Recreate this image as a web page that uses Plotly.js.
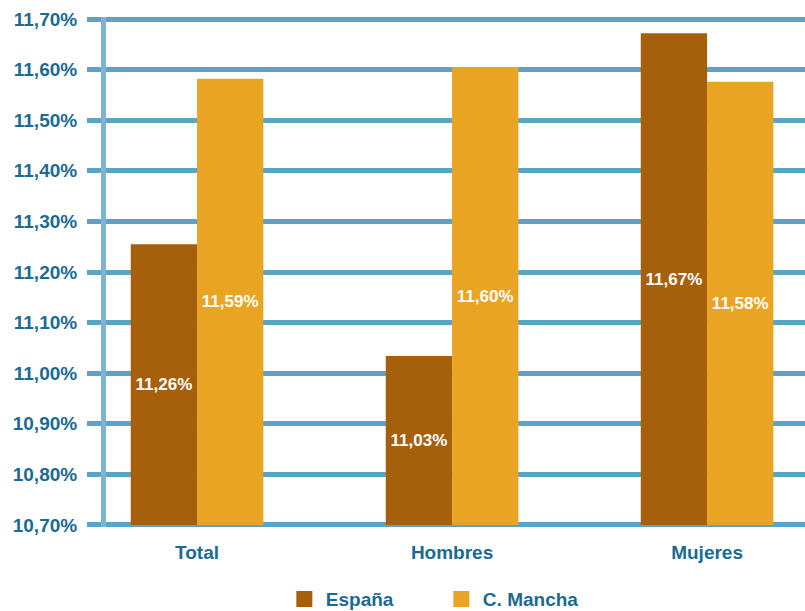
<!DOCTYPE html>
<html>
<head>
<meta charset="utf-8">
<script src="https://cdn.plot.ly/plotly-3.0.1.min.js"></script>
<style>html,body{margin:0;padding:0;background:#fff;}#chart{width:805px;height:611px;}</style>
</head>
<body>
<div id="chart"></div>
<script>
var categories = ["Total", "Hombres", "Mujeres"];
var seriesNames = ["España", "C. Mancha"];
var espana = [11.255, 11.034, 11.672];
var mancha = [11.582, 11.605, 11.576];
var espanaLabels = ["11,26%", "11,03%", "11,67%"];
var manchaLabels = ["11,59%", "11,60%", "11,58%"];
var yTickVals = [10.7, 10.8, 10.9, 11.0, 11.1, 11.2, 11.3, 11.4, 11.5, 11.6, 11.7];
var yTickText = ["10,70%", "10,80%", "10,90%", "11,00%", "11,10%", "11,20%", "11,30%", "11,40%", "11,50%", "11,60%", "11,70%"];
var axisMin = 10.7;

var colEsp = "#a65f0b";
var colMan = "#e9a424";
var blue = "#1b6a93";
var grid = "#5ba4c6";
var FONT = "Liberation Sans, Arial, sans-serif";

function barTrace(name, y, text, color) {
  return {
    type: "bar", name: name, x: categories, y: y.map(function(v){return v - axisMin;}),
    base: axisMin, text: text, textposition: "inside", insidetextanchor: "middle",
    textangle: 0, constraintext: "none",
    insidetextfont: {color: "#ffffff", size: 17, family: FONT, weight: "bold"},
    marker: {color: color, line: {width: 0}},
    showlegend: false, hoverinfo: "skip"
  };
}
function legendTrace(name, color) {
  return {type: "scatter", mode: "markers", name: name, x: [null], y: [null],
    marker: {symbol: "square", size: 20, color: color}, showlegend: true, hoverinfo: "skip"};
}

var data = [
  barTrace(seriesNames[0], espana, espanaLabels, colEsp),
  barTrace(seriesNames[1], mancha, manchaLabels, colMan),
  legendTrace(seriesNames[0], colEsp),
  legendTrace(seriesNames[1], colMan)
];

var layout = {
  width: 805, height: 611,
  margin: {l: 106, r: 0, t: 17, b: 84, pad: 0, autoexpand: false},
  paper_bgcolor: "#ffffff", plot_bgcolor: "#ffffff",
  font: {family: FONT, color: blue, size: 19, weight: "bold"},
  barmode: "group", bargap: 0.48, bargroupgap: 0,
  xaxis: {
    type: "category", range: [-0.357, 2.384], showgrid: false, zeroline: false,
    showline: false, ticks: "", ticklabelstandoff: 12, automargin: false,
    tickfont: {family: FONT, size: 19, color: blue, weight: "bold"}, fixedrange: true
  },
  yaxis: {
    range: [10.696, 11.704], tickvals: yTickVals, ticktext: yTickText, automargin: false,
    showgrid: true, gridcolor: grid, gridwidth: 5, zeroline: false,
    showline: true, linecolor: "#7db4d4", linewidth: 5,
    ticks: "outside", ticklen: 14, tickwidth: 5, tickcolor: grid, ticklabelstandoff: 6,
    tickfont: {family: FONT, size: 19, color: blue, weight: "bold"}, fixedrange: true
  },
  showlegend: true,
  legend: {
    orientation: "h", x: 0.253, xanchor: "left", y: 0.0505, yref: "container", yanchor: "top",
    font: {family: FONT, size: 19, color: blue, weight: "bold"},
    entrywidth: 109, entrywidthmode: "pixels", itemwidth: 33, bgcolor: "rgba(0,0,0,0)"
  }
};

Plotly.newPlot("chart", data, layout, {displayModeBar: false, staticPlot: true});
</script>
</body>
</html>
